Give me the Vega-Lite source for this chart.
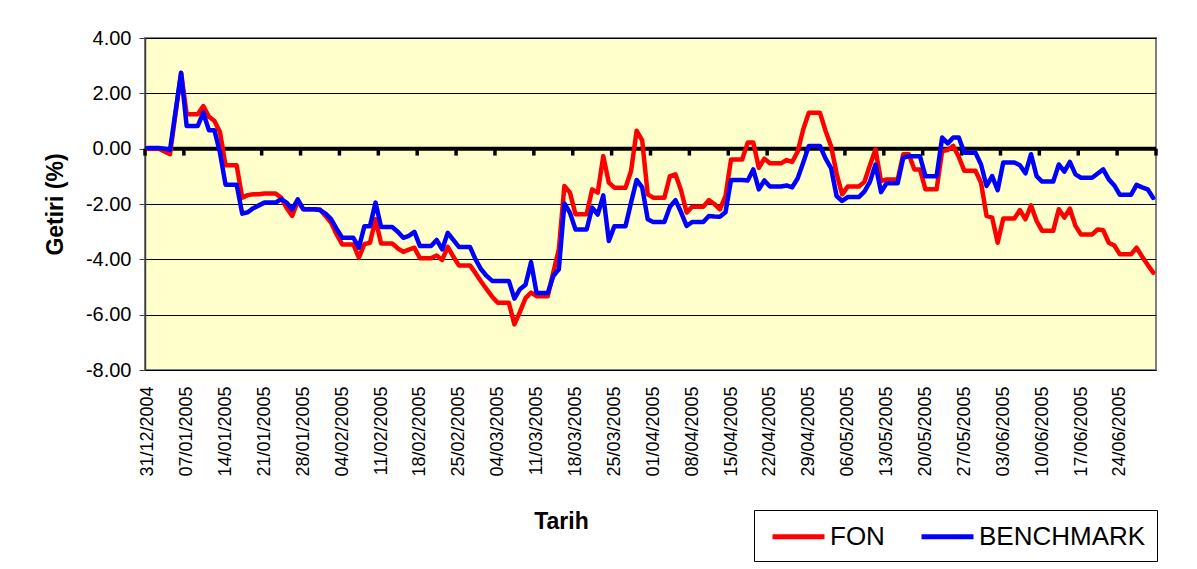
{
  "$schema": "https://vega.github.io/schema/vega-lite/v6.json",
  "width": 1011,
  "height": 332,
  "autosize": {"type": "none"},
  "padding": {"left": 145, "top": 38, "right": 41, "bottom": 199},
  "background": "white",
  "config": {
    "font": "Liberation Sans",
    "view": {"fill": "#FFFFCC", "stroke": "#808080", "strokeWidth": 2},
    "axis": {"labelFont": "Liberation Sans", "titleFont": "Liberation Sans", "labelColor": "black", "titleColor": "black"},
    "legend": {"labelFont": "Liberation Sans"}
  },
  "datasets": {
    "series": [
      {"date": "2004-12-31", "FON": 0.00, "BENCHMARK": 0.02},
      {"date": "2005-01-01", "FON": 0.00, "BENCHMARK": 0.02},
      {"date": "2005-01-02", "FON": 0.00, "BENCHMARK": 0.02},
      {"date": "2005-01-03", "FON": -0.10, "BENCHMARK": 0.00},
      {"date": "2005-01-04", "FON": -0.20, "BENCHMARK": -0.05},
      {"date": "2005-01-05", "FON": 1.27, "BENCHMARK": 1.35},
      {"date": "2005-01-06", "FON": 2.74, "BENCHMARK": 2.74},
      {"date": "2005-01-07", "FON": 1.24, "BENCHMARK": 0.82},
      {"date": "2005-01-08", "FON": 1.24, "BENCHMARK": 0.82},
      {"date": "2005-01-09", "FON": 1.24, "BENCHMARK": 0.82},
      {"date": "2005-01-10", "FON": 1.54, "BENCHMARK": 1.30},
      {"date": "2005-01-11", "FON": 1.16, "BENCHMARK": 0.67},
      {"date": "2005-01-12", "FON": 1.00, "BENCHMARK": 0.67},
      {"date": "2005-01-13", "FON": 0.60, "BENCHMARK": -0.15},
      {"date": "2005-01-14", "FON": -0.60, "BENCHMARK": -1.30},
      {"date": "2005-01-15", "FON": -0.60, "BENCHMARK": -1.30},
      {"date": "2005-01-16", "FON": -0.60, "BENCHMARK": -1.30},
      {"date": "2005-01-17", "FON": -1.77, "BENCHMARK": -2.35},
      {"date": "2005-01-18", "FON": -1.68, "BENCHMARK": -2.30},
      {"date": "2005-01-19", "FON": -1.65, "BENCHMARK": -2.15},
      {"date": "2005-01-20", "FON": -1.65, "BENCHMARK": -2.05},
      {"date": "2005-01-21", "FON": -1.62, "BENCHMARK": -1.95},
      {"date": "2005-01-22", "FON": -1.62, "BENCHMARK": -1.95},
      {"date": "2005-01-23", "FON": -1.62, "BENCHMARK": -1.95},
      {"date": "2005-01-24", "FON": -1.77, "BENCHMARK": -1.83},
      {"date": "2005-01-25", "FON": -2.14, "BENCHMARK": -1.95},
      {"date": "2005-01-26", "FON": -2.43, "BENCHMARK": -2.19},
      {"date": "2005-01-27", "FON": -1.89, "BENCHMARK": -1.83},
      {"date": "2005-01-28", "FON": -2.19, "BENCHMARK": -2.19},
      {"date": "2005-01-29", "FON": -2.19, "BENCHMARK": -2.19},
      {"date": "2005-01-30", "FON": -2.19, "BENCHMARK": -2.19},
      {"date": "2005-01-31", "FON": -2.20, "BENCHMARK": -2.22},
      {"date": "2005-02-01", "FON": -2.43, "BENCHMARK": -2.35},
      {"date": "2005-02-02", "FON": -2.68, "BENCHMARK": -2.55},
      {"date": "2005-02-03", "FON": -3.10, "BENCHMARK": -2.90},
      {"date": "2005-02-04", "FON": -3.46, "BENCHMARK": -3.22},
      {"date": "2005-02-05", "FON": -3.46, "BENCHMARK": -3.22},
      {"date": "2005-02-06", "FON": -3.46, "BENCHMARK": -3.22},
      {"date": "2005-02-07", "FON": -3.94, "BENCHMARK": -3.58},
      {"date": "2005-02-08", "FON": -3.45, "BENCHMARK": -2.80},
      {"date": "2005-02-09", "FON": -3.40, "BENCHMARK": -2.80},
      {"date": "2005-02-10", "FON": -2.55, "BENCHMARK": -1.95},
      {"date": "2005-02-11", "FON": -3.43, "BENCHMARK": -2.83},
      {"date": "2005-02-12", "FON": -3.43, "BENCHMARK": -2.83},
      {"date": "2005-02-13", "FON": -3.43, "BENCHMARK": -2.83},
      {"date": "2005-02-14", "FON": -3.60, "BENCHMARK": -3.00},
      {"date": "2005-02-15", "FON": -3.73, "BENCHMARK": -3.22},
      {"date": "2005-02-16", "FON": -3.65, "BENCHMARK": -3.15},
      {"date": "2005-02-17", "FON": -3.58, "BENCHMARK": -3.01},
      {"date": "2005-02-18", "FON": -3.96, "BENCHMARK": -3.52},
      {"date": "2005-02-19", "FON": -3.96, "BENCHMARK": -3.52},
      {"date": "2005-02-20", "FON": -3.96, "BENCHMARK": -3.52},
      {"date": "2005-02-21", "FON": -3.86, "BENCHMARK": -3.30},
      {"date": "2005-02-22", "FON": -4.02, "BENCHMARK": -3.64},
      {"date": "2005-02-23", "FON": -3.55, "BENCHMARK": -3.04},
      {"date": "2005-02-24", "FON": -3.90, "BENCHMARK": -3.30},
      {"date": "2005-02-25", "FON": -4.22, "BENCHMARK": -3.55},
      {"date": "2005-02-26", "FON": -4.22, "BENCHMARK": -3.55},
      {"date": "2005-02-27", "FON": -4.22, "BENCHMARK": -3.55},
      {"date": "2005-02-28", "FON": -4.50, "BENCHMARK": -4.00},
      {"date": "2005-03-01", "FON": -4.80, "BENCHMARK": -4.36},
      {"date": "2005-03-02", "FON": -5.08, "BENCHMARK": -4.60},
      {"date": "2005-03-03", "FON": -5.35, "BENCHMARK": -4.78},
      {"date": "2005-03-04", "FON": -5.57, "BENCHMARK": -4.78},
      {"date": "2005-03-05", "FON": -5.57, "BENCHMARK": -4.78},
      {"date": "2005-03-06", "FON": -5.57, "BENCHMARK": -4.78},
      {"date": "2005-03-07", "FON": -6.35, "BENCHMARK": -5.42},
      {"date": "2005-03-08", "FON": -5.90, "BENCHMARK": -5.08},
      {"date": "2005-03-09", "FON": -5.40, "BENCHMARK": -4.92},
      {"date": "2005-03-10", "FON": -5.20, "BENCHMARK": -4.10},
      {"date": "2005-03-11", "FON": -5.33, "BENCHMARK": -5.22},
      {"date": "2005-03-12", "FON": -5.33, "BENCHMARK": -5.22},
      {"date": "2005-03-13", "FON": -5.33, "BENCHMARK": -5.22},
      {"date": "2005-03-14", "FON": -4.48, "BENCHMARK": -4.60},
      {"date": "2005-03-15", "FON": -3.64, "BENCHMARK": -4.36},
      {"date": "2005-03-16", "FON": -1.35, "BENCHMARK": -1.98},
      {"date": "2005-03-17", "FON": -1.59, "BENCHMARK": -2.32},
      {"date": "2005-03-18", "FON": -2.37, "BENCHMARK": -2.92},
      {"date": "2005-03-19", "FON": -2.37, "BENCHMARK": -2.92},
      {"date": "2005-03-20", "FON": -2.37, "BENCHMARK": -2.92},
      {"date": "2005-03-21", "FON": -1.47, "BENCHMARK": -2.13},
      {"date": "2005-03-22", "FON": -1.59, "BENCHMARK": -2.38},
      {"date": "2005-03-23", "FON": -0.27, "BENCHMARK": -1.69},
      {"date": "2005-03-24", "FON": -1.23, "BENCHMARK": -3.34},
      {"date": "2005-03-25", "FON": -1.41, "BENCHMARK": -2.80},
      {"date": "2005-03-26", "FON": -1.41, "BENCHMARK": -2.80},
      {"date": "2005-03-27", "FON": -1.41, "BENCHMARK": -2.80},
      {"date": "2005-03-28", "FON": -0.81, "BENCHMARK": -1.95},
      {"date": "2005-03-29", "FON": 0.65, "BENCHMARK": -1.13},
      {"date": "2005-03-30", "FON": 0.30, "BENCHMARK": -1.40},
      {"date": "2005-03-31", "FON": -1.65, "BENCHMARK": -2.55},
      {"date": "2005-04-01", "FON": -1.77, "BENCHMARK": -2.65},
      {"date": "2005-04-02", "FON": -1.77, "BENCHMARK": -2.65},
      {"date": "2005-04-03", "FON": -1.77, "BENCHMARK": -2.65},
      {"date": "2005-04-04", "FON": -0.99, "BENCHMARK": -2.10},
      {"date": "2005-04-05", "FON": -0.93, "BENCHMARK": -1.86},
      {"date": "2005-04-06", "FON": -1.50, "BENCHMARK": -2.30},
      {"date": "2005-04-07", "FON": -2.31, "BENCHMARK": -2.79},
      {"date": "2005-04-08", "FON": -2.10, "BENCHMARK": -2.65},
      {"date": "2005-04-09", "FON": -2.10, "BENCHMARK": -2.65},
      {"date": "2005-04-10", "FON": -2.10, "BENCHMARK": -2.65},
      {"date": "2005-04-11", "FON": -1.86, "BENCHMARK": -2.43},
      {"date": "2005-04-12", "FON": -2.00, "BENCHMARK": -2.45},
      {"date": "2005-04-13", "FON": -2.19, "BENCHMARK": -2.46},
      {"date": "2005-04-14", "FON": -1.71, "BENCHMARK": -2.30},
      {"date": "2005-04-15", "FON": -0.39, "BENCHMARK": -1.13},
      {"date": "2005-04-16", "FON": -0.39, "BENCHMARK": -1.13},
      {"date": "2005-04-17", "FON": -0.39, "BENCHMARK": -1.13},
      {"date": "2005-04-18", "FON": 0.22, "BENCHMARK": -1.15},
      {"date": "2005-04-19", "FON": 0.22, "BENCHMARK": -0.75},
      {"date": "2005-04-20", "FON": -0.69, "BENCHMARK": -1.47},
      {"date": "2005-04-21", "FON": -0.36, "BENCHMARK": -1.15},
      {"date": "2005-04-22", "FON": -0.53, "BENCHMARK": -1.37},
      {"date": "2005-04-23", "FON": -0.53, "BENCHMARK": -1.37},
      {"date": "2005-04-24", "FON": -0.53, "BENCHMARK": -1.37},
      {"date": "2005-04-25", "FON": -0.41, "BENCHMARK": -1.33},
      {"date": "2005-04-26", "FON": -0.48, "BENCHMARK": -1.40},
      {"date": "2005-04-27", "FON": -0.10, "BENCHMARK": -1.07},
      {"date": "2005-04-28", "FON": 0.70, "BENCHMARK": -0.50},
      {"date": "2005-04-29", "FON": 1.30, "BENCHMARK": 0.10},
      {"date": "2005-04-30", "FON": 1.30, "BENCHMARK": 0.10},
      {"date": "2005-05-01", "FON": 1.30, "BENCHMARK": 0.10},
      {"date": "2005-05-02", "FON": 0.65, "BENCHMARK": -0.35},
      {"date": "2005-05-03", "FON": 0.10, "BENCHMARK": -0.70},
      {"date": "2005-05-04", "FON": -0.90, "BENCHMARK": -1.71},
      {"date": "2005-05-05", "FON": -1.65, "BENCHMARK": -1.89},
      {"date": "2005-05-06", "FON": -1.37, "BENCHMARK": -1.75},
      {"date": "2005-05-07", "FON": -1.37, "BENCHMARK": -1.75},
      {"date": "2005-05-08", "FON": -1.37, "BENCHMARK": -1.75},
      {"date": "2005-05-09", "FON": -1.20, "BENCHMARK": -1.55},
      {"date": "2005-05-10", "FON": -0.60, "BENCHMARK": -1.20},
      {"date": "2005-05-11", "FON": -0.03, "BENCHMARK": -0.57},
      {"date": "2005-05-12", "FON": -1.17, "BENCHMARK": -1.57},
      {"date": "2005-05-13", "FON": -1.11, "BENCHMARK": -1.25},
      {"date": "2005-05-14", "FON": -1.11, "BENCHMARK": -1.25},
      {"date": "2005-05-15", "FON": -1.11, "BENCHMARK": -1.25},
      {"date": "2005-05-16", "FON": -0.20, "BENCHMARK": -0.33},
      {"date": "2005-05-17", "FON": -0.20, "BENCHMARK": -0.27},
      {"date": "2005-05-18", "FON": -0.75, "BENCHMARK": -0.27},
      {"date": "2005-05-19", "FON": -0.75, "BENCHMARK": -0.27},
      {"date": "2005-05-20", "FON": -1.47, "BENCHMARK": -1.00},
      {"date": "2005-05-21", "FON": -1.47, "BENCHMARK": -1.00},
      {"date": "2005-05-22", "FON": -1.47, "BENCHMARK": -1.00},
      {"date": "2005-05-23", "FON": -0.09, "BENCHMARK": 0.40},
      {"date": "2005-05-24", "FON": -0.05, "BENCHMARK": 0.19},
      {"date": "2005-05-25", "FON": 0.10, "BENCHMARK": 0.40},
      {"date": "2005-05-26", "FON": -0.30, "BENCHMARK": 0.40},
      {"date": "2005-05-27", "FON": -0.80, "BENCHMARK": -0.15},
      {"date": "2005-05-28", "FON": -0.80, "BENCHMARK": -0.15},
      {"date": "2005-05-29", "FON": -0.80, "BENCHMARK": -0.15},
      {"date": "2005-05-30", "FON": -1.23, "BENCHMARK": -0.57},
      {"date": "2005-05-31", "FON": -2.43, "BENCHMARK": -1.35},
      {"date": "2005-06-01", "FON": -2.49, "BENCHMARK": -0.99},
      {"date": "2005-06-02", "FON": -3.40, "BENCHMARK": -1.50},
      {"date": "2005-06-03", "FON": -2.52, "BENCHMARK": -0.50},
      {"date": "2005-06-04", "FON": -2.52, "BENCHMARK": -0.50},
      {"date": "2005-06-05", "FON": -2.52, "BENCHMARK": -0.50},
      {"date": "2005-06-06", "FON": -2.22, "BENCHMARK": -0.60},
      {"date": "2005-06-07", "FON": -2.55, "BENCHMARK": -0.89},
      {"date": "2005-06-08", "FON": -2.05, "BENCHMARK": -0.20},
      {"date": "2005-06-09", "FON": -2.61, "BENCHMARK": -0.99},
      {"date": "2005-06-10", "FON": -2.97, "BENCHMARK": -1.19},
      {"date": "2005-06-11", "FON": -2.97, "BENCHMARK": -1.19},
      {"date": "2005-06-12", "FON": -2.97, "BENCHMARK": -1.19},
      {"date": "2005-06-13", "FON": -2.19, "BENCHMARK": -0.57},
      {"date": "2005-06-14", "FON": -2.49, "BENCHMARK": -0.83},
      {"date": "2005-06-15", "FON": -2.17, "BENCHMARK": -0.48},
      {"date": "2005-06-16", "FON": -2.79, "BENCHMARK": -0.93},
      {"date": "2005-06-17", "FON": -3.10, "BENCHMARK": -1.05},
      {"date": "2005-06-18", "FON": -3.10, "BENCHMARK": -1.05},
      {"date": "2005-06-19", "FON": -3.10, "BENCHMARK": -1.05},
      {"date": "2005-06-20", "FON": -2.92, "BENCHMARK": -0.90},
      {"date": "2005-06-21", "FON": -2.95, "BENCHMARK": -0.75},
      {"date": "2005-06-22", "FON": -3.40, "BENCHMARK": -1.11},
      {"date": "2005-06-23", "FON": -3.50, "BENCHMARK": -1.33},
      {"date": "2005-06-24", "FON": -3.82, "BENCHMARK": -1.67},
      {"date": "2005-06-25", "FON": -3.82, "BENCHMARK": -1.67},
      {"date": "2005-06-26", "FON": -3.82, "BENCHMARK": -1.67},
      {"date": "2005-06-27", "FON": -3.58, "BENCHMARK": -1.31},
      {"date": "2005-06-28", "FON": -3.90, "BENCHMARK": -1.40},
      {"date": "2005-06-29", "FON": -4.20, "BENCHMARK": -1.47},
      {"date": "2005-06-30", "FON": -4.48, "BENCHMARK": -1.78}
    ],
    "ticks": [
      {"date": "2004-12-31"}, {"date": "2005-01-07"}, {"date": "2005-01-14"}, {"date": "2005-01-21"},
      {"date": "2005-01-28"}, {"date": "2005-02-04"}, {"date": "2005-02-11"}, {"date": "2005-02-18"},
      {"date": "2005-02-25"}, {"date": "2005-03-04"}, {"date": "2005-03-11"}, {"date": "2005-03-18"},
      {"date": "2005-03-25"}, {"date": "2005-04-01"}, {"date": "2005-04-08"}, {"date": "2005-04-15"},
      {"date": "2005-04-22"}, {"date": "2005-04-29"}, {"date": "2005-05-06"}, {"date": "2005-05-13"},
      {"date": "2005-05-20"}, {"date": "2005-05-27"}, {"date": "2005-06-03"}, {"date": "2005-06-10"},
      {"date": "2005-06-17"}, {"date": "2005-06-24"}, {"date": "2005-07-01"}
    ]
  },
  "data": {"name": "series"},
  "layer": [
    {
      "data": {"values": [{}]},
      "mark": {"type": "rule", "color": "black", "strokeWidth": 4},
      "encoding": {"y": {"datum": 0, "type": "quantitative", "scale": {"domain": [-8, 4], "nice": false, "zero": false}, "title": "Getiri (%)"}}
    },
    {
      "data": {"name": "ticks"},
      "mark": {"type": "rule", "color": "black", "strokeWidth": 3.5},
      "encoding": {
        "x": {"field": "date", "type": "temporal", "title": "Tarih",
              "scale": {"type": "utc", "domain": [{"year": 2004, "month": 12, "date": 31, "utc": true}, {"year": 2005, "month": 7, "date": 1, "utc": true}]}},
        "y": {"datum": 0, "type": "quantitative", "title": "Getiri (%)"},
        "y2": {"datum": -0.25}
      }
    },
    {
      "mark": {"type": "line", "strokeWidth": 4.5, "strokeCap": "round", "strokeJoin": "round"},
      "encoding": {
        "x": {"field": "date", "type": "temporal", "timeUnit": "utcyearmonthdate", "bandPosition": 0.5, "title": "Tarih",
              "scale": {"type": "utc", "domain": [{"year": 2004, "month": 12, "date": 31, "utc": true}, {"year": 2005, "month": 7, "date": 1, "utc": true}]},
              "axis": {
                "values": [
                  {"year": 2004, "month": 12, "date": 31, "hours": 12, "utc": true},
                  {"year": 2005, "month": 1, "date": 7, "hours": 12, "utc": true},
                  {"year": 2005, "month": 1, "date": 14, "hours": 12, "utc": true},
                  {"year": 2005, "month": 1, "date": 21, "hours": 12, "utc": true},
                  {"year": 2005, "month": 1, "date": 28, "hours": 12, "utc": true},
                  {"year": 2005, "month": 2, "date": 4, "hours": 12, "utc": true},
                  {"year": 2005, "month": 2, "date": 11, "hours": 12, "utc": true},
                  {"year": 2005, "month": 2, "date": 18, "hours": 12, "utc": true},
                  {"year": 2005, "month": 2, "date": 25, "hours": 12, "utc": true},
                  {"year": 2005, "month": 3, "date": 4, "hours": 12, "utc": true},
                  {"year": 2005, "month": 3, "date": 11, "hours": 12, "utc": true},
                  {"year": 2005, "month": 3, "date": 18, "hours": 12, "utc": true},
                  {"year": 2005, "month": 3, "date": 25, "hours": 12, "utc": true},
                  {"year": 2005, "month": 4, "date": 1, "hours": 12, "utc": true},
                  {"year": 2005, "month": 4, "date": 8, "hours": 12, "utc": true},
                  {"year": 2005, "month": 4, "date": 15, "hours": 12, "utc": true},
                  {"year": 2005, "month": 4, "date": 22, "hours": 12, "utc": true},
                  {"year": 2005, "month": 4, "date": 29, "hours": 12, "utc": true},
                  {"year": 2005, "month": 5, "date": 6, "hours": 12, "utc": true},
                  {"year": 2005, "month": 5, "date": 13, "hours": 12, "utc": true},
                  {"year": 2005, "month": 5, "date": 20, "hours": 12, "utc": true},
                  {"year": 2005, "month": 5, "date": 27, "hours": 12, "utc": true},
                  {"year": 2005, "month": 6, "date": 3, "hours": 12, "utc": true},
                  {"year": 2005, "month": 6, "date": 10, "hours": 12, "utc": true},
                  {"year": 2005, "month": 6, "date": 17, "hours": 12, "utc": true},
                  {"year": 2005, "month": 6, "date": 24, "hours": 12, "utc": true}
                ],
                "labelExpr": "utcFormat(datum.value, '%d/%m/%Y')",
                "labelAngle": -90,
                "labelAlign": "right",
                "labelBaseline": "middle",
                "labelFontSize": 18,
                "labelPadding": 16,
                "labelOverlap": false,
                "labelFlush": false,
                "ticks": false,
                "tickSize": 0,
                "domain": false,
                "grid": false,
                "titleFontSize": 23,
                "titleFontWeight": "bold",
                "titleX": 416,
                "titleY": 151,
                "titleBaseline": "middle",
                "titleAlign": "center"
              }},
        "y": {"field": "FON", "type": "quantitative", "title": "Getiri (%)",
              "scale": {"domain": [-8, 4], "nice": false, "zero": false},
              "axis": {
                "values": [-8, -6, -4, -2, 0, 2, 4],
                "labelExpr": "replace(format(datum.value, '.2f'), '\u2212', '-')",
                "labelFontSize": 20,
                "labelPadding": 8,
                "tickSize": 6,
                "tickColor": "#404040",
                "domainColor": "#404040",
                "domainWidth": 1.5,
                "grid": true,
                "gridColor": "black",
                "gridWidth": 1,
                "titleFontSize": 23,
                "titleFontWeight": "bold",
                "titleX": -90,
                "titleY": 166,
                "titleAngle": -90,
                "titleBaseline": "middle",
                "titleAlign": "center"
              }},
        "color": {"datum": "FON", "type": "nominal",
                  "scale": {"domain": ["FON", "BENCHMARK"], "range": ["#FF0000", "#0000FF"]},
                  "legend": {
                    "title": null, "orient": "none", "legendX": 609, "legendY": 472,
                    "direction": "horizontal", "strokeColor": "black", "fillColor": "white",
                    "padding": 11, "labelFontSize": 26, "labelLimit": 0,
                    "symbolType": "M-2,0H2", "symbolSize": 676, "symbolOffset": 18,
                    "symbolStrokeWidth": 5, "labelOffset": 16, "columnPadding": 26, "labelColor": "black"
                  }}
      }
    },
    {
      "mark": {"type": "line", "strokeWidth": 4.5, "strokeCap": "round", "strokeJoin": "round"},
      "encoding": {
        "x": {"field": "date", "type": "temporal", "timeUnit": "utcyearmonthdate", "bandPosition": 0.5, "title": "Tarih"},
        "y": {"field": "BENCHMARK", "type": "quantitative", "title": "Getiri (%)"},
        "color": {"datum": "BENCHMARK", "type": "nominal"}
      }
    }
  ]
}
